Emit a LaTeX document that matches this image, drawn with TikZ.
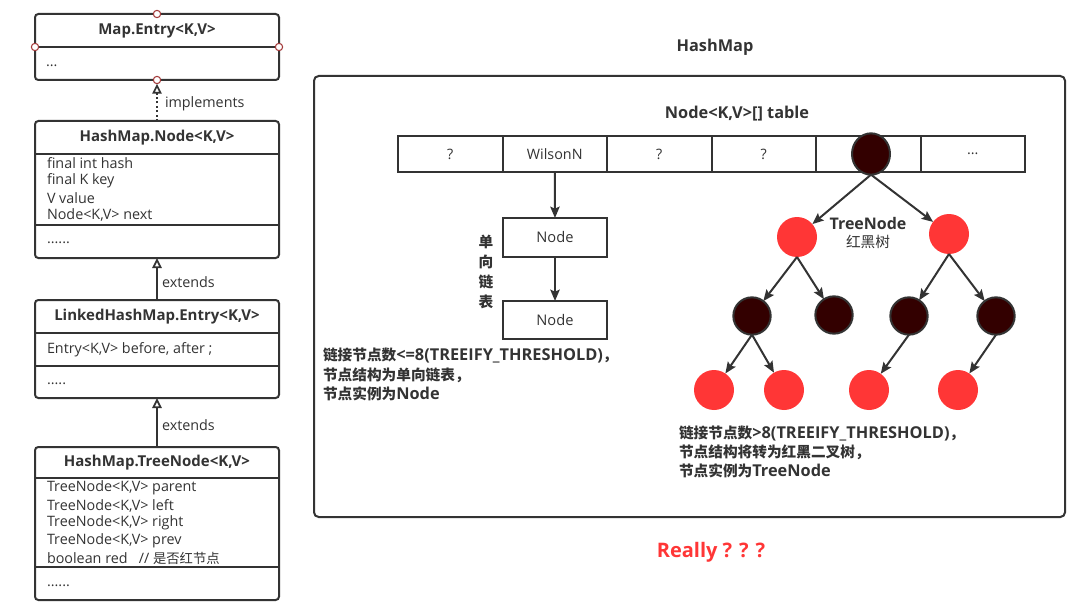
\documentclass[tikz,border=0pt]{standalone}
\usepackage{fontspec}
\setmainfont{Open Sans}
\newfontfamily\cjk{Noto Sans CJK SC}
\newcommand\cj[1]{{\cjk\fontsize{11}{12}\selectfont #1}}
\usetikzlibrary{arrows.meta,shapes.geometric}
\definecolor{ink}{HTML}{333333}
\definecolor{rednode}{HTML}{FF3636}
\definecolor{blknode}{HTML}{330000}
\definecolor{portc}{HTML}{A33A3A}
\begin{document}
\begin{tikzpicture}[x=0.75pt,y=-0.75pt,line width=1.5pt,draw=ink,text=ink,
  every node/.style={inner sep=0pt,outer sep=0pt},
  sz/.style 2 args={minimum width=#1*0.75pt,minimum height=#2*0.75pt},
  cls/.style={draw,rounded corners=2.5pt},
  cell/.style={draw,sz={104.5}{36},font=\fontsize{10.75}{12}\selectfont},
  title/.style={font=\bfseries\fontsize{11.25}{13}\selectfont},
  field/.style={anchor=west,font=\fontsize{10.75}{12}\selectfont},
  note/.style={anchor=west,font=\bfseries\fontsize{12.25}{13}\selectfont},
  portn/.style={circle,draw=portc,fill=white,line width=0.8pt,minimum size=5.5pt},
  gen/.style={-{Triangle[open,length=7.5pt,width=7pt,line width=1.3pt]}},
  arr/.style={-{Stealth[length=8.5pt,width=7pt,inset=1.5pt]}},
  rn/.style={circle,fill=rednode,minimum size=30pt},
  bn/.style={circle,draw=ink,fill=blknode,line width=1.5pt,minimum size=28pt}]
\useasboundingbox (0,0) rectangle (1090,610);

% ---------- class boxes ----------
\node[cls,sz={244}{66}] (me) at (157,47) {};
\draw (35,47) -- (279,47);
\node[title] (met) at (157,31) {Map.Entry<K,V>};
\node[field] (med) at (46,66) {...};

\node[cls,sz={244}{137}] (hn) at (157,189.5) {};
\draw (35,154) -- (279,154);
\draw (35,225) -- (279,225);
\node[title] (hnt) at (157,138) {HashMap.Node<K,V>};
\node[field] (hn1) at (47,163) {final int hash};
\node[field] (hn2) at (47,181) {final K key};
\node[field] (hn3) at (47,198) {V value};
\node[field] (hn4) at (47,215) {Node<K,V> next};
\node[field] (hn5) at (47,243) {......};

\node[cls,sz={244}{98}] (le) at (157,349) {};
\draw (35,333) -- (279,333);
\draw (35,366) -- (279,366);
\node[title] (let) at (157,317) {LinkedHashMap.Entry<K,V>};
\node[field] (le1) at (47,350) {Entry<K,V> before, after ;};
\node[field] (le2) at (47,384) {.....};

\node[cls,sz={244}{153}] (tn) at (157,523.5) {};
\draw (35,478) -- (279,478);
\draw (35,567) -- (279,567);
\node[title] (tnt) at (157,463) {HashMap.TreeNode<K,V>};
\node[field] (tn1) at (47,488) {TreeNode<K,V> parent};
\node[field] (tn2) at (47,506) {TreeNode<K,V> left};
\node[field] (tn3) at (47,523) {TreeNode<K,V> right};
\node[field] (tn4) at (47,541) {TreeNode<K,V> prev};
\node[field] (tn5) at (47,558) {boolean red \ \ // {\cjk\fontsize{10}{12}\selectfont 是否红节点}};
\node[field] (tn6) at (47,586) {......};

% ports
\node[portn] (pt) at (157,14) {};
\node[portn] (pl) at (35,47) {};
\node[portn] (pr) at (279,47) {};
\node[portn] (pb) at (157,80) {};

% inheritance
\draw[gen,dash pattern=on 1.5pt off 1.8pt] (hn.north) -- (pb.south);
\node[field] (lim) at (165,104) {implements};
\draw[gen] (le.north) -- (hn.south);
\node[field] (lex1) at (162,282) {extends};
\draw[gen] (tn.north) -- (le.south);
\node[field] (lex2) at (162,425) {extends};

% ---------- HashMap ----------
\node[font=\bfseries\fontsize{12.25}{14}\selectfont] (hmt) at (715,47) {HashMap};
\node[draw,rounded corners=3.5pt,sz={751}{441}] (hm) at (689.5,296.5) {};
\node[font=\bfseries\fontsize{12.25}{14}\selectfont] (tbt) at (737,114) {Node<K,V>[] table};

\node[cell] (c1) at (450.25,154) {?};
\node[cell] (c2) at (554.75,154) {WilsonN};
\node[cell] (c3) at (659.25,154) {?};
\node[cell] (c4) at (763.75,154) {?};
\node[cell] (c5) at (868.25,154) {};
\node[cell] (c6) at (972.75,154) {...};

\node[draw=ink,fill=blknode,ellipse,line width=1.5pt,minimum width=28.5pt,minimum height=31pt] (root) at (871,154) {};

% linked list
\node[draw,sz={104}{39}] (n1) at (555,237.5) {\fontsize{11}{12}\selectfont Node};
\node[draw,sz={104}{38}] (n2) at (555,320) {\fontsize{11}{12}\selectfont Node};
\draw[arr] (c2.south) -- (n1.north);
\draw[arr] (n1.south) -- (n2.north);
\node[font=\cjk\bfseries\fontsize{11}{15}\selectfont,align=center] (vl) at (486,272) {单\\向\\链\\表};

\node[note] (ln1) at (323,355) {\cj{链接节点数}<=8(TREEIFY\_THRESHOLD)\cj{，}};
\node[note] (ln2) at (323,375) {\cj{节点结构为单向链表，}};
\node[note] (ln3) at (323,394) {\cj{节点实例为}Node};

% tree
\node[rn] (a) at (797,237) {};
\node[rn] (b) at (949,234) {};
\node[bn] (a1) at (752,316) {};
\node[bn] (a2) at (834,315) {};
\node[bn] (b1) at (909,316) {};
\node[bn] (b2) at (996,316) {};
\node[rn] (a11) at (714,390) {};
\node[rn] (a12) at (784,390) {};
\node[rn] (b11) at (869,390) {};
\node[rn] (b21) at (958,390) {};

\draw[arr] (root.south) -- (a);
\draw[arr] (root.south) -- (b);
\draw[arr] (a.south) -- (a1);
\draw[arr] (a.south) -- (a2);
\draw[arr] (b.south) -- (b1);
\draw[arr] (b.south) -- (b2);
\draw[arr] (a1.south) -- (a11);
\draw[arr] (a1.south) -- (a12);
\draw[arr] (b1.south) -- (b11);
\draw[arr] (b2.south) -- (b21);

\node[font=\fontsize{12}{13.5}\selectfont,align=center] (tnl) at (868,233) {\textbf{TreeNode}\\{\cjk\fontsize{11}{12}\selectfont 红黑树}};

\node[note] (rn1) at (679,433) {\cj{链接节点数}>8(TREEIFY\_THRESHOLD)\cj{，}};
\node[note] (rn2) at (679,452) {\cj{节点结构将转为红黑二叉树，}};
\node[note] (rn3) at (679,471) {\cj{节点实例为}TreeNode};

\node[text=rednode,font=\bfseries\fontsize{15}{18}\selectfont] (really) at (711,552) {Really ? ? ?};
\end{tikzpicture}
\end{document}
